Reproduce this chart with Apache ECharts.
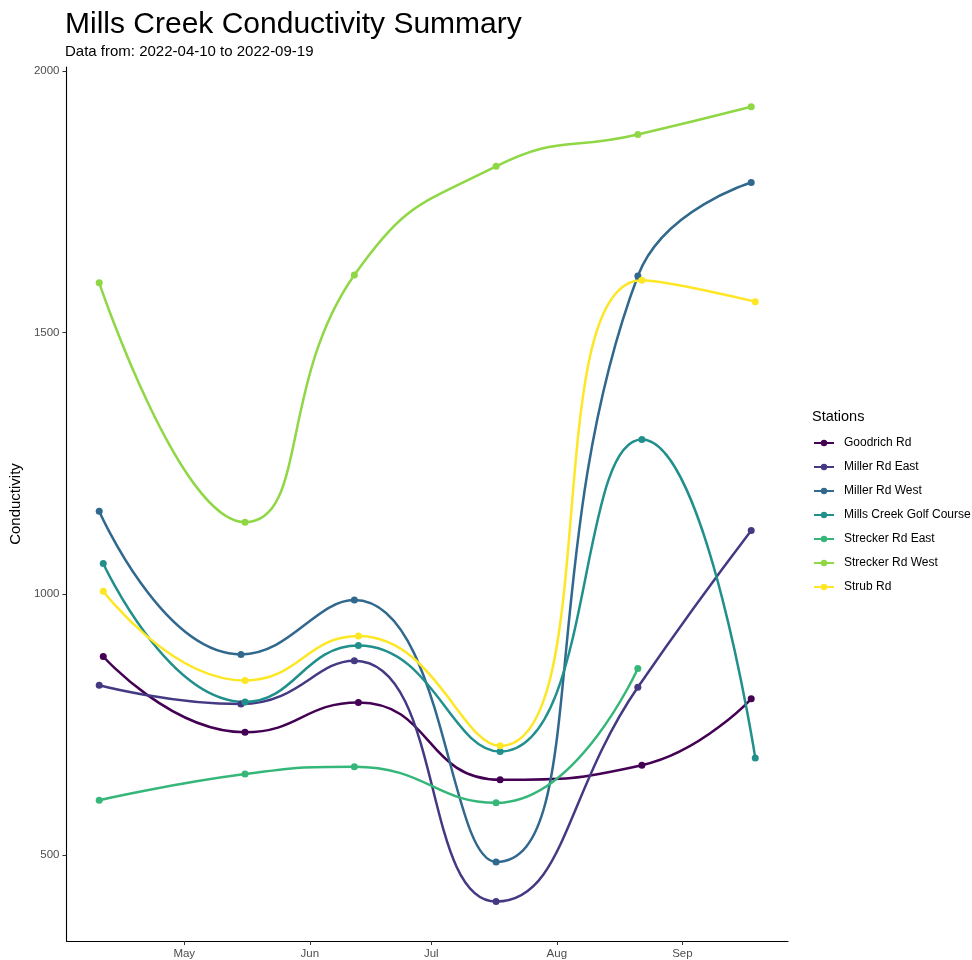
<!DOCTYPE html>
<html>
<head>
<meta charset="utf-8">
<script src="https://cdn.jsdelivr.net/npm/echarts@6/dist/echarts.min.js"></script>
<style>
html,body{margin:0;padding:0;background:#fff;}
#chart{width:972px;height:960px;}
</style>
</head>
<body>
<div id="chart"></div>
<script>
// ---- Data ----
const stations = ["Goodrich Rd","Miller Rd East","Miller Rd West","Mills Creek Golf Course","Strecker Rd East","Strecker Rd West","Strub Rd"];
const colors = ["#440154","#443A83","#31688E","#21908C","#35B779","#8FD744","#FDE725"];

const goodrichDates = ["2022-04-11","2022-05-16","2022-06-13","2022-07-18","2022-08-22","2022-09-18"];
const goodrichValues = [880, 735, 792, 644, 672, 799];

const millerEastDates = ["2022-04-10","2022-05-15","2022-06-12","2022-07-17","2022-08-21","2022-09-18"];
const millerEastValues = [825, 789, 872, 411, 821, 1121];

const millerWestDates = ["2022-04-10","2022-05-15","2022-06-12","2022-07-17","2022-08-21","2022-09-18"];
const millerWestValues = [1158, 884, 988, 487, 1608, 1787];

const golfDates = ["2022-04-11","2022-05-16","2022-06-13","2022-07-18","2022-08-22","2022-09-19"];
const golfValues = [1058, 793, 901, 698, 1295, 686];

const streckerEastDates = ["2022-04-10","2022-05-16","2022-06-12","2022-07-17","2022-08-21"];
const streckerEastValues = [605, 655, 669, 600, 857];

const streckerWestDates = ["2022-04-10","2022-05-16","2022-06-12","2022-07-17","2022-08-21","2022-09-18"];
const streckerWestValues = [1595, 1137, 1610, 1818, 1879, 1932];

const strubDates = ["2022-04-11","2022-05-16","2022-06-13","2022-07-18","2022-08-22","2022-09-19"];
const strubValues = [1005, 834, 919, 709, 1600, 1559];

const xTickDates = ["2022-05-01","2022-06-01","2022-07-01","2022-08-01","2022-09-01"];
const xTickLabels = ["May","Jun","Jul","Aug","Sep"];
const yTicks = [500, 1000, 1500, 2000];

const xMinDate = "2022-04-01T22:00:00";
const xMaxDate = "2022-09-27T02:00:00";
const yMin = 335.6;
const yMax = 2008;

// ---- Build ----
function ts(s){ const p = s.split(/[-T:]/).map(Number); return Date.UTC(p[0], p[1]-1, p[2], p[3]||0, p[4]||0); }
function pairs(d, v){ return d.map((x,i)=>[ts(x), v[i]]); }

const seriesData = [
  pairs(goodrichDates, goodrichValues),
  pairs(millerEastDates, millerEastValues),
  pairs(millerWestDates, millerWestValues),
  pairs(golfDates, golfValues),
  pairs(streckerEastDates, streckerEastValues),
  pairs(streckerWestDates, streckerWestValues),
  pairs(strubDates, strubValues)
];
const xTickTs = xTickDates.map(ts);

const FONT = "Liberation Sans, Arial, Helvetica, sans-serif";
const chart = echarts.init(document.getElementById('chart'), null, {renderer:'canvas'});

const option = {
  animation: false,
  backgroundColor: '#ffffff',
  textStyle: {fontFamily: FONT},
  title: [
    {text: 'Mills Creek Conductivity Summary', left: 65, top: 10, padding: 0,
     textStyle: {fontFamily: FONT, fontSize: 30, fontWeight: 'normal', color: '#000'}},
    {text: 'Data from: 2022-04-10 to 2022-09-19', left: 65, top: 44, padding: 0,
     textStyle: {fontFamily: FONT, fontSize: 15, fontWeight: 'normal', color: '#000'}},
    {text: 'Stations', left: 812, top: 409, padding: 0,
     textStyle: {fontFamily: FONT, fontSize: 14.5, fontWeight: 'normal', color: '#000'}}
  ],
  legend: {
    orient: 'vertical',
    left: 813, top: 437, padding: 0,
    itemWidth: 20, itemHeight: 8, itemGap: 12,
    data: stations,
    textStyle: {fontFamily: FONT, fontSize: 12, color: '#000', padding: [0,0,0,5]}
  },
  grid: {left: 64, right: 184, top: 67, bottom: 19, containLabel: false},
  xAxis: {
    type: 'value',
    min: ts(xMinDate), max: ts(xMaxDate),
    axisLine: {show: true, lineStyle: {color: '#000', width: 1.1}},
    axisTick: {show: true, length: 4, lineStyle: {color: '#333'}, customValues: xTickTs},
    axisLabel: {
      customValues: xTickTs, margin: 7,
      color: '#4d4d4d', fontSize: 11.5, fontFamily: FONT,
      formatter: function(v){ const i = xTickTs.indexOf(v); return i >= 0 ? xTickLabels[i] : ''; }
    },
    splitLine: {show: false}
  },
  yAxis: {
    type: 'value',
    min: yMin, max: yMax,
    name: 'Conductivity', nameLocation: 'middle', nameGap: 34, nameRotate: 90,
    nameTextStyle: {fontFamily: FONT, fontSize: 15, color: '#000'},
    axisLine: {show: true, lineStyle: {color: '#000', width: 1.1}},
    axisTick: {show: true, length: 4, lineStyle: {color: '#333'}, customValues: yTicks},
    axisLabel: {customValues: yTicks, margin: 7, color: '#4d4d4d', fontSize: 11.5, fontFamily: FONT,
      formatter: function(v){ return String(v); }},
    splitLine: {show: false}
  },
  series: stations.map((name, i) => ({
    name: name,
    type: 'line',
    data: seriesData[i],
    smooth: 0.5,
    symbol: 'circle',
    symbolSize: 7,
    showSymbol: true,
    lineStyle: {width: 2.5, color: colors[i]},
    itemStyle: {color: colors[i]},
    emphasis: {disabled: true}
  }))
};
chart.setOption(option);
</script>
</body>
</html>
